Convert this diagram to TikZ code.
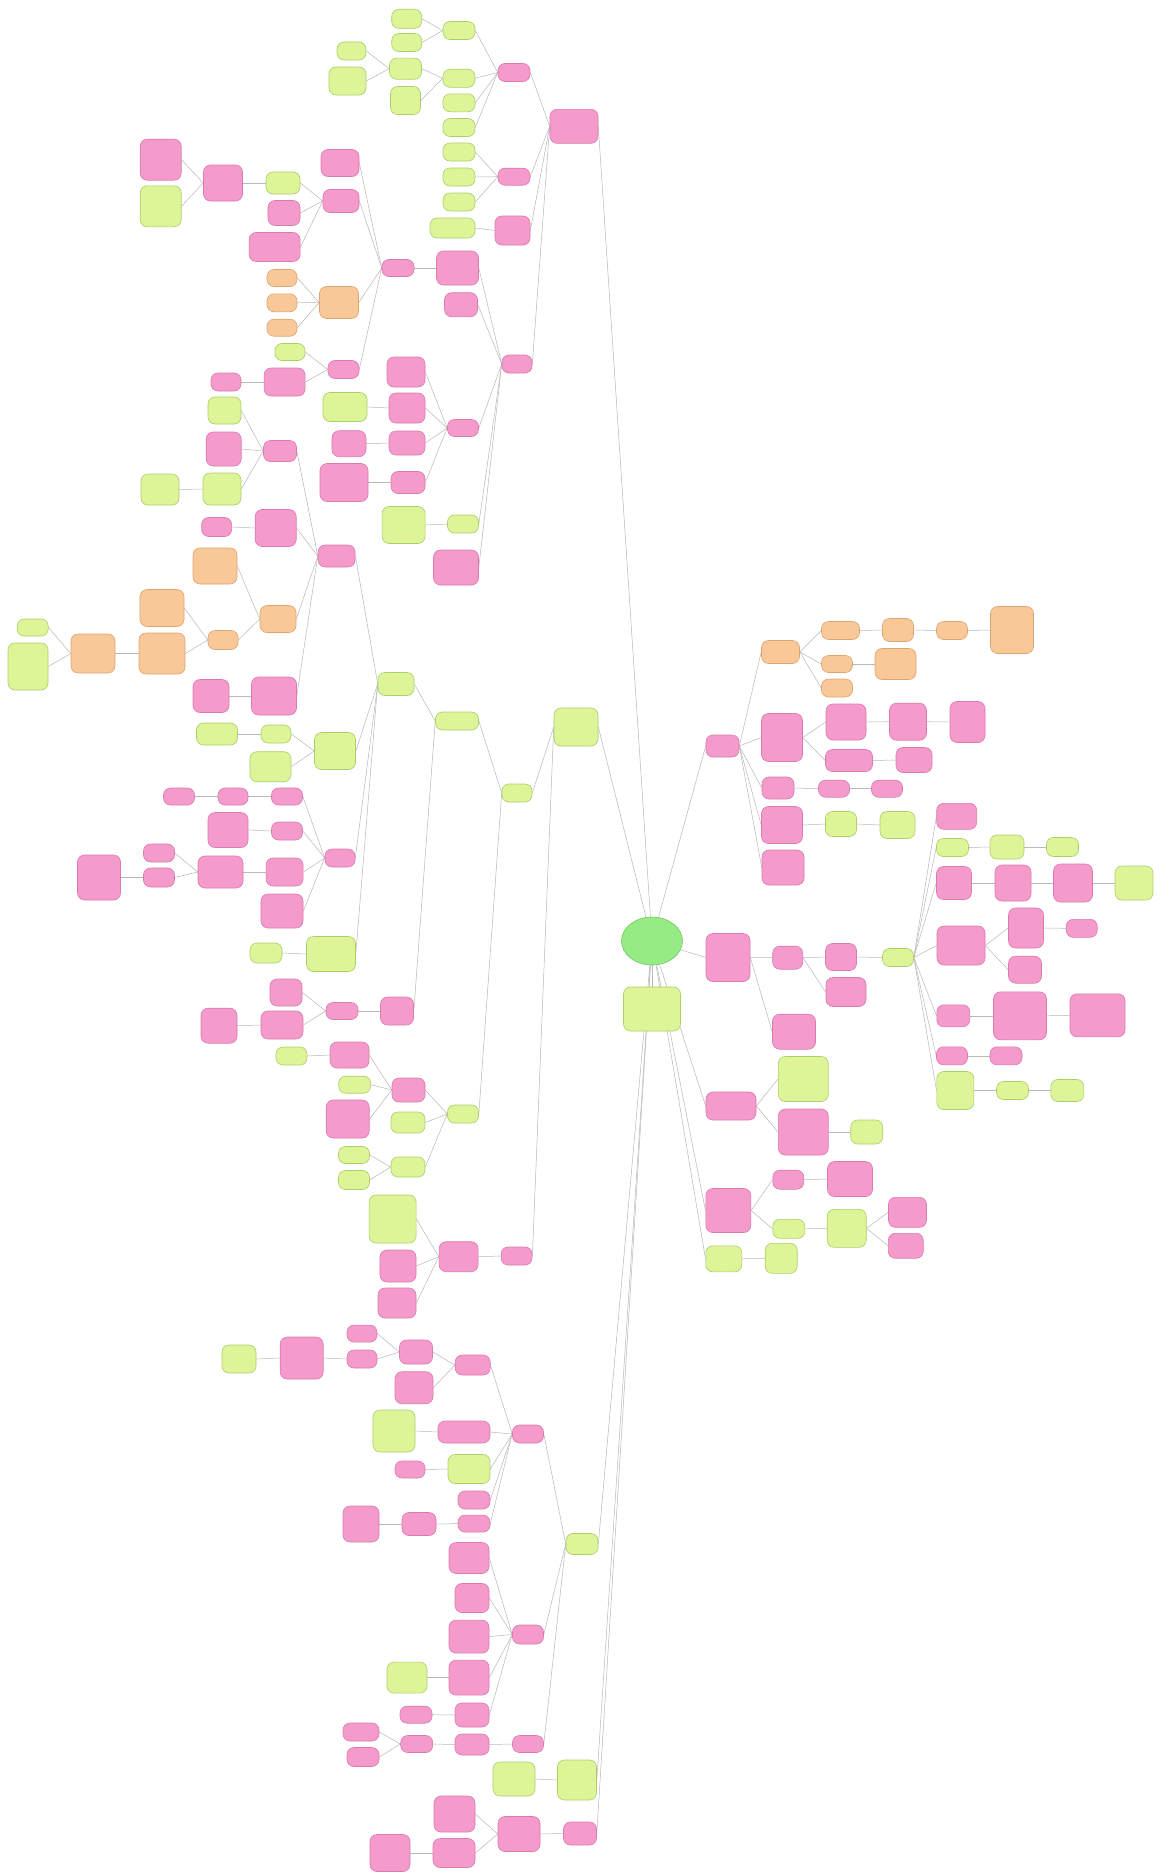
\documentclass[tikz,border=0pt]{standalone}
\usetikzlibrary{shapes.geometric,backgrounds}
\definecolor{pkF}{HTML}{F59BCB}
\definecolor{pkB}{HTML}{D97AB0}
\definecolor{grF}{HTML}{DDF598}
\definecolor{grB}{HTML}{AACF68}
\definecolor{ogF}{HTML}{F9C898}
\definecolor{ogB}{HTML}{DDA572}
\definecolor{rtF}{HTML}{96EC84}
\definecolor{rtB}{HTML}{74C865}
\definecolor{edC}{HTML}{B8B8B8}
\tikzset{
  box/.style={rounded corners=7pt, line width=0.6pt, inner sep=0pt},
  pk/.style={box, draw=pkB, fill=pkF},
  gr/.style={box, draw=grB, fill=grF},
  og/.style={box, draw=ogB, fill=ogF},
  edge/.style={draw=edC, line width=0.5pt}
}
\newcommand{\mmn}[6]{\node[#2, minimum width=#5pt, minimum height=#6pt] (#1) at (#3,#4) {};}
\newcommand{\mmL}[2]{\draw[edge] (#1.west) -- (#2.east);}
\newcommand{\mmR}[2]{\draw[edge] (#1.east) -- (#2.west);}
\newcommand{\mmRoot}[2]{\draw[edge] (#1) -- (#2);}
\begin{document}
\begin{tikzpicture}[x=1pt,y=-1pt]
\useasboundingbox (0,0) rectangle (1160,1876);
% ---------- root ----------
\node[ellipse, draw=rtB, fill=rtF, line width=0.6pt, minimum width=61pt, minimum height=48pt, inner sep=0pt] (root) at (652,941) {};
\mmn{G}{gr}{652}{1009}{57}{44}
% ---------- right side ----------
\mmn{P1}{pk}{722.5}{746}{33}{22}
\mmn{O1}{og}{780.5}{652}{38}{23}
\mmn{O2}{og}{840.5}{630.5}{38}{18}
\mmn{O3}{og}{898}{630}{31}{23}
\mmn{O4}{og}{952}{630.5}{31}{18}
\mmn{O5}{og}{1012}{630}{43}{47}
\mmn{O6}{og}{837}{664}{31}{17}
\mmn{O7}{og}{895.5}{664}{41}{31}
\mmn{O8}{og}{837}{688}{31}{18}
\mmn{P2}{pk}{782}{737.5}{41}{48}
\mmn{P2a}{pk}{846}{722}{40}{36}
\mmn{P2b}{pk}{908}{721.7}{37}{37}
\mmn{P2c}{pk}{967.5}{722}{35}{41}
\mmn{P2d}{pk}{849}{760.5}{47}{22}
\mmn{P2e}{pk}{914}{760}{36}{25}
\mmn{P3}{pk}{778}{788}{32}{22}
\mmn{P3a}{pk}{834}{788.7}{31}{17}
\mmn{P3b}{pk}{887}{788.7}{31}{17}
\mmn{P4}{pk}{782}{825}{41}{37}
\mmn{P4a}{gr}{841}{824}{31}{25}
\mmn{P4b}{gr}{897.5}{825}{35}{27}
\mmn{P5}{pk}{783}{867.5}{42}{35}
\mmn{Q}{pk}{728}{957.5}{44}{48}
\mmn{Q1}{pk}{787.7}{957.7}{30}{23}
\mmn{Q2}{pk}{841}{957}{31}{27}
\mmn{Q3}{gr}{898}{957.5}{31}{18}
\mmn{Q4}{pk}{846}{992}{40}{29}
\mmn{Q5}{pk}{794}{1031.7}{43}{35}
\mmn{R1}{pk}{956.7}{816.3}{40}{26}
\mmn{R2}{gr}{952.5}{847.5}{32}{18}
\mmn{R2a}{gr}{1007}{847}{34}{24}
\mmn{R2b}{gr}{1062.5}{847}{32}{19}
\mmn{R3}{pk}{954}{883}{35}{33}
\mmn{R3a}{pk}{1013}{883}{36}{36}
\mmn{R3b}{pk}{1073}{883}{39}{38}
\mmn{R3c}{gr}{1134}{883}{38}{34}
\mmn{R4}{pk}{961}{945.5}{48}{39}
\mmn{R4a}{pk}{1026}{928}{35}{40}
\mmn{R4aa}{pk}{1081.7}{928.3}{31}{18}
\mmn{R4b}{pk}{1025}{969.7}{33}{27}
\mmn{R5}{pk}{953.3}{1015.8}{33}{22}
\mmn{R5a}{pk}{1020}{1015.8}{53}{48}
\mmn{R5b}{pk}{1097.5}{1015.3}{55}{43}
\mmn{R6}{pk}{952}{1055.8}{31}{18}
\mmn{R6a}{pk}{1006}{1055.8}{32}{18}
\mmn{R7}{gr}{955.3}{1090.5}{37}{38}
\mmn{R7a}{gr}{1012.5}{1090.5}{32}{18}
\mmn{R7b}{gr}{1067.3}{1090.5}{33}{22}
\mmn{S}{pk}{731}{1106}{50}{28}
\mmn{S1}{gr}{803.3}{1079}{50}{45}
\mmn{S2}{pk}{803.3}{1132}{50}{46}
\mmn{S2a}{gr}{866.7}{1132}{32}{24}
\mmn{T}{pk}{728.3}{1210.5}{45}{44}
\mmn{T1}{pk}{788.3}{1179.7}{31}{19}
\mmn{T1a}{pk}{850}{1179}{45}{35}
\mmn{T2}{gr}{788.8}{1228.8}{32}{19}
\mmn{T2a}{gr}{846.7}{1228.3}{39}{38}
\mmn{T2aa}{pk}{907.5}{1212.3}{38}{30}
\mmn{T2ab}{pk}{905.8}{1245.8}{35}{25}
\mmn{U}{gr}{723.8}{1258.8}{36}{26}
\mmn{U1}{gr}{781.2}{1258.3}{32}{30}
% ---------- left side: top branch ----------
\mmn{A}{pk}{574}{126.3}{48}{34}
\mmn{A1}{pk}{514}{72.5}{32}{18}
\mmn{A1a}{gr}{459}{30.5}{32}{18}
\mmn{A1aa}{gr}{406.7}{18.8}{30}{19}
\mmn{A1ab}{gr}{406.7}{42.5}{30}{18}
\mmn{A1b}{gr}{459}{78.3}{32}{18}
\mmn{A1ba}{gr}{405.5}{68.7}{32}{21}
\mmn{A1bb}{gr}{405.5}{100.5}{30}{28}
\mmn{A1bax}{gr}{351.5}{51}{29}{18}
\mmn{A1bay}{gr}{347.5}{81}{37}{28}
\mmn{A1c}{gr}{459}{102.8}{32}{18}
\mmn{A1d}{gr}{459}{127.5}{32}{18}
\mmn{A2}{pk}{514}{176.7}{32}{17}
\mmn{A2a}{gr}{459}{152}{32}{18}
\mmn{A2b}{gr}{459}{177}{32}{18}
\mmn{A2c}{gr}{459}{202}{32}{18}
\mmn{A3}{pk}{512.5}{230.5}{35}{29}
\mmn{A3a}{gr}{452.5}{228}{45}{20}
\mmn{M2}{pk}{517}{364}{30}{18}
\mmn{B1}{pk}{457.5}{268}{42}{34}
\mmn{B1b}{pk}{461}{304.7}{33}{24}
\mmn{B}{pk}{398}{268}{32}{17}
\mmn{Ba}{pk}{340}{163}{38}{27}
\mmn{Bb}{pk}{341}{201}{36}{23}
\mmn{Bba}{gr}{283}{183}{34}{22}
\mmn{Bbaa}{pk}{223}{183}{39}{36}
\mmn{Bbaaa}{pk}{160.7}{159.7}{41}{41}
\mmn{Bbaab}{gr}{160.7}{206.3}{41}{41}
\mmn{Bbb}{pk}{284}{213}{32}{25}
\mmn{Bbc}{pk}{274.6}{247}{51}{29}
\mmn{Bc}{og}{339}{302.5}{39}{32}
\mmn{Bca}{og}{282}{278}{30}{17}
\mmn{Bcb}{og}{282}{302.8}{30}{18}
\mmn{Bcc}{og}{282}{327.7}{30}{17}
\mmn{Bd}{pk}{343.5}{369.5}{31}{18}
\mmn{Bda}{gr}{290}{352}{30}{17}
\mmn{Bdb}{pk}{284.6}{382}{41}{28}
\mmn{Bdba}{pk}{226}{382}{30}{18}
\mmn{C}{pk}{463}{428}{31}{17}
\mmn{C1}{pk}{406}{372}{38}{30}
\mmn{C2}{pk}{407}{408}{36}{30}
\mmn{C2a}{gr}{345}{407}{44}{29}
\mmn{C3}{pk}{407}{443}{36}{24}
\mmn{C3a}{pk}{349}{443.7}{34}{26}
\mmn{C4}{pk}{408}{482.5}{34}{22}
\mmn{C4a}{pk}{344}{482.5}{48}{38}
\mmn{D}{gr}{463}{524}{31}{18}
\mmn{Da}{gr}{403.6}{525}{43}{37}
\mmn{E}{pk}{456}{567.5}{45}{35}
% ---------- left side: middle branch ----------
\mmn{Gt}{gr}{576}{727}{44}{38}
\mmn{Gm}{gr}{517}{793}{30}{18}
\mmn{Gc0}{gr}{457}{721}{43}{18}
\mmn{Gc}{gr}{396}{684}{36}{23}
\mmn{Lc}{pk}{336.6}{556}{37}{22}
\mmn{F1}{pk}{280}{451}{33}{21}
\mmn{F1a}{gr}{224.5}{410.5}{33}{27}
\mmn{F1b}{pk}{223.7}{449}{35}{34}
\mmn{F1c}{gr}{222}{489}{38}{32}
\mmn{F1ca}{gr}{160}{489.5}{38}{31}
\mmn{Lc1}{pk}{275.7}{528}{41}{37}
\mmn{Lc1a}{pk}{216.6}{527}{30}{19}
\mmn{Lc2}{og}{278}{619}{36}{27}
\mmn{Lc2a}{og}{215}{566}{44}{36}
\mmn{Lc2b}{og}{223}{640}{30}{19}
\mmn{Lc2ba}{og}{162}{608}{44}{37}
\mmn{Lc2bb}{og}{162}{653.5}{46}{41}
\mmn{Lc2bc}{og}{93}{653.5}{44}{39}
\mmn{Lc2bd}{gr}{32.7}{627.5}{31}{17}
\mmn{Lc2be}{gr}{28}{666.5}{40}{47}
\mmn{Lc3}{pk}{274}{696}{45}{38}
\mmn{Lc3a}{pk}{211}{696}{36}{33}
\mmn{Gc1}{gr}{335}{751}{41}{37}
\mmn{Gc1a}{gr}{276}{734}{30}{18}
\mmn{Gc1aa}{gr}{217}{734}{41}{22}
\mmn{Gc1b}{gr}{270.5}{766.7}{41}{30}
\mmn{H}{pk}{340}{858}{30}{18}
\mmn{H1}{pk}{287}{796.5}{31}{17}
\mmn{H1a}{pk}{233}{796.5}{30}{17}
\mmn{H1b}{pk}{179}{796.5}{31}{17}
\mmn{H2}{pk}{287}{831}{31}{18}
\mmn{H2a}{pk}{228}{830}{40}{35}
\mmn{H3}{pk}{284.6}{872}{37}{28}
\mmn{H3a}{pk}{220.5}{872}{45}{32}
\mmn{H3aa}{pk}{159}{853}{31}{18}
\mmn{H3ab}{pk}{159}{877.5}{31}{19}
\mmn{H3aba}{pk}{99}{877.5}{43}{45}
\mmn{H4}{pk}{282}{911}{42}{34}
\mmn{I}{gr}{331}{954}{49}{35}
\mmn{Ia}{gr}{266}{953}{32}{20}
\mmn{J}{pk}{397}{1011}{33}{28}
\mmn{J1}{pk}{342}{1011}{32}{17}
\mmn{J1a}{pk}{286}{992.5}{32}{27}
\mmn{J1b}{pk}{282}{1025}{42}{28}
\mmn{J1ba}{pk}{219}{1025.7}{36}{35}
\mmn{V}{gr}{463}{1114}{31}{18}
\mmn{V1}{pk}{408.5}{1090}{33}{24}
\mmn{V1a}{pk}{349.5}{1055}{39}{26}
\mmn{V1aa}{gr}{291.5}{1056}{31}{18}
\mmn{V1b}{gr}{354.6}{1084.7}{32}{17}
\mmn{V1c}{pk}{347.7}{1119}{43}{38}
\mmn{V2}{gr}{408}{1122.5}{34}{21}
\mmn{V3}{gr}{408}{1167}{34}{20}
\mmn{V3a}{gr}{354}{1155}{31}{17}
\mmn{V3b}{gr}{354}{1180}{31}{19}
\mmn{W}{pk}{516.6}{1256}{31}{18}
\mmn{W1}{pk}{458.6}{1256.7}{39}{30}
\mmn{W1a}{gr}{392.6}{1219}{47}{48}
\mmn{W1b}{pk}{398}{1266}{36}{32}
\mmn{W1c}{pk}{397}{1303}{38}{30}
% ---------- left side: bottom branches ----------
\mmn{Sl}{gr}{582}{1544}{32}{21}
\mmn{Y}{pk}{528}{1434}{31}{18}
\mmn{X}{pk}{472.7}{1365}{35}{20}
\mmn{X1}{pk}{416}{1352}{33}{24}
\mmn{X1a}{pk}{362}{1333.6}{30}{17}
\mmn{X1b}{pk}{362}{1359}{30}{18}
\mmn{X1ba}{pk}{301.7}{1358}{43}{42}
\mmn{X1bb}{gr}{239}{1359}{34}{28}
\mmn{X2}{pk}{414}{1387.7}{38}{32}
\mmn{Y1}{pk}{464}{1432}{52}{22}
\mmn{Y1a}{gr}{394}{1431}{42}{42}
\mmn{Y2}{gr}{469}{1469}{42}{29}
\mmn{Y2a}{pk}{410}{1469.5}{30}{17}
\mmn{Y3}{pk}{474}{1500}{32}{18}
\mmn{Y4}{pk}{474}{1523.6}{32}{17}
\mmn{Y4a}{pk}{419}{1524}{34}{23}
\mmn{Y4aa}{pk}{361}{1524}{36}{36}
\mmn{Z}{pk}{528}{1634.5}{31}{19}
\mmn{Z1}{pk}{469}{1558}{40}{31}
\mmn{Z2}{pk}{472}{1598}{34}{29}
\mmn{Z3}{pk}{469}{1636.6}{40}{33}
\mmn{Z4}{pk}{469}{1677.6}{40}{35}
\mmn{Z4a}{gr}{407}{1677.6}{40}{31}
\mmn{Z5}{pk}{472}{1715}{34}{24}
\mmn{Z5a}{pk}{416}{1714.7}{32}{17}
\mmn{AA}{pk}{528}{1744}{31}{17}
\mmn{AA1}{pk}{472}{1744.5}{34}{21}
\mmn{AA1a}{pk}{416.7}{1744}{32}{17}
\mmn{AA1aa}{pk}{361}{1732}{36}{18}
\mmn{AA1ab}{pk}{363}{1757}{32}{19}
\mmn{BB}{gr}{577}{1780}{39}{40}
\mmn{BB1}{gr}{514}{1779}{42}{34}
\mmn{CC}{pk}{580}{1833.5}{33}{23}
\mmn{CC1}{pk}{519}{1834}{42}{35}
\mmn{CC1a}{pk}{454.5}{1814}{41}{36}
\mmn{CC1b}{pk}{454}{1853}{42}{29}
\mmn{CC1ba}{pk}{390}{1853}{40}{37}
% ---------- connectors ----------
\begin{pgfonlayer}{background}
\fill[white] (0,0) rectangle (1160,1876);
% root
\mmRoot{root}{P1.west}
\mmRoot{root}{Q.west}
\mmRoot{root}{S.west}
\mmRoot{root}{T.west}
\mmRoot{root}{U.west}
\mmRoot{root}{A.east}
\mmRoot{root}{Gt.east}
\mmRoot{root}{Sl.east}
\mmRoot{root}{BB.east}
\mmRoot{root}{CC.east}
\mmRoot{root}{G}
% right
\mmR{P1}{O1}\mmR{O1}{O2}\mmR{O2}{O3}\mmR{O3}{O4}\mmR{O4}{O5}
\mmR{O1}{O6}\mmR{O6}{O7}\mmR{O1}{O8}
\mmR{P1}{P2}\mmR{P2}{P2a}\mmR{P2a}{P2b}\mmR{P2b}{P2c}\mmR{P2}{P2d}\mmR{P2d}{P2e}
\mmR{P1}{P3}\mmR{P3}{P3a}\mmR{P3a}{P3b}
\mmR{P1}{P4}\mmR{P4}{P4a}\mmR{P4a}{P4b}
\mmR{P1}{P5}
\mmR{Q}{Q1}\mmR{Q1}{Q2}\mmR{Q2}{Q3}\mmR{Q1}{Q4}\mmR{Q}{Q5}
\mmR{Q3}{R1}\mmR{Q3}{R2}\mmR{Q3}{R3}\mmR{Q3}{R4}\mmR{Q3}{R5}\mmR{Q3}{R6}\mmR{Q3}{R7}
\mmR{R2}{R2a}\mmR{R2a}{R2b}
\mmR{R3}{R3a}\mmR{R3a}{R3b}\mmR{R3b}{R3c}
\mmR{R4}{R4a}\mmR{R4a}{R4aa}\mmR{R4}{R4b}
\mmR{R5}{R5a}\mmR{R5a}{R5b}
\mmR{R6}{R6a}
\mmR{R7}{R7a}\mmR{R7a}{R7b}
\mmR{S}{S1}\mmR{S}{S2}\mmR{S2}{S2a}
\mmR{T}{T1}\mmR{T1}{T1a}\mmR{T}{T2}\mmR{T2}{T2a}\mmR{T2a}{T2aa}\mmR{T2a}{T2ab}
\mmR{U}{U1}
% left top
\mmL{A}{A1}\mmL{A}{A2}\mmL{A}{A3}\mmL{A}{M2}
\mmL{A1}{A1a}\mmL{A1}{A1b}\mmL{A1}{A1c}\mmL{A1}{A1d}
\mmL{A1a}{A1aa}\mmL{A1a}{A1ab}\mmL{A1b}{A1ba}\mmL{A1b}{A1bb}
\mmL{A1ba}{A1bax}\mmL{A1ba}{A1bay}
\mmL{A2}{A2a}\mmL{A2}{A2b}\mmL{A2}{A2c}\mmL{A3}{A3a}
\mmL{M2}{B1}\mmL{M2}{B1b}\mmL{M2}{C}\mmL{M2}{D}\mmL{M2}{E}
\mmL{B1}{B}\mmL{B}{Ba}\mmL{B}{Bb}\mmL{B}{Bc}\mmL{B}{Bd}
\mmL{Bb}{Bba}\mmL{Bb}{Bbb}\mmL{Bb}{Bbc}\mmL{Bba}{Bbaa}\mmL{Bbaa}{Bbaaa}\mmL{Bbaa}{Bbaab}
\mmL{Bc}{Bca}\mmL{Bc}{Bcb}\mmL{Bc}{Bcc}
\mmL{Bd}{Bda}\mmL{Bd}{Bdb}\mmL{Bdb}{Bdba}
\mmL{C}{C1}\mmL{C}{C2}\mmL{C}{C3}\mmL{C}{C4}\mmL{C2}{C2a}\mmL{C3}{C3a}\mmL{C4}{C4a}
\mmL{D}{Da}
% left middle
\mmL{Gt}{Gm}\mmL{Gt}{W}\mmL{Gm}{Gc0}\mmL{Gm}{V}\mmL{Gc0}{Gc}\mmL{Gc0}{J}
\mmL{Gc}{Lc}\mmL{Gc}{Gc1}\mmL{Gc}{H}\mmL{Gc}{I}
\mmL{Lc}{F1}\mmL{Lc}{Lc1}\mmL{Lc}{Lc2}\mmL{Lc}{Lc3}
\mmL{F1}{F1a}\mmL{F1}{F1b}\mmL{F1}{F1c}\mmL{F1c}{F1ca}
\mmL{Lc1}{Lc1a}\mmL{Lc2}{Lc2a}\mmL{Lc2}{Lc2b}\mmL{Lc2b}{Lc2ba}\mmL{Lc2b}{Lc2bb}
\mmL{Lc2bb}{Lc2bc}\mmL{Lc2bc}{Lc2bd}\mmL{Lc2bc}{Lc2be}
\mmL{Lc3}{Lc3a}
\mmL{Gc1}{Gc1a}\mmL{Gc1}{Gc1b}\mmL{Gc1a}{Gc1aa}
\mmL{H}{H1}\mmL{H}{H2}\mmL{H}{H3}\mmL{H}{H4}\mmL{H1}{H1a}\mmL{H1a}{H1b}\mmL{H2}{H2a}
\mmL{H3}{H3a}\mmL{H3a}{H3aa}\mmL{H3a}{H3ab}\mmL{H3ab}{H3aba}
\mmL{I}{Ia}
\mmL{J}{J1}\mmL{J1}{J1a}\mmL{J1}{J1b}\mmL{J1b}{J1ba}
\mmL{V}{V1}\mmL{V}{V2}\mmL{V}{V3}\mmL{V1}{V1a}\mmL{V1}{V1b}\mmL{V1}{V1c}\mmL{V1a}{V1aa}
\mmL{V3}{V3a}\mmL{V3}{V3b}
\mmL{W}{W1}\mmL{W1}{W1a}\mmL{W1}{W1b}\mmL{W1}{W1c}
% left bottom
\mmL{Sl}{Y}\mmL{Sl}{Z}\mmL{Sl}{AA}
\mmL{Y}{X}\mmL{Y}{Y1}\mmL{Y}{Y2}\mmL{Y}{Y3}\mmL{Y}{Y4}
\mmL{X}{X1}\mmL{X}{X2}\mmL{X1}{X1a}\mmL{X1}{X1b}\mmL{X1b}{X1ba}\mmL{X1ba}{X1bb}
\mmL{Y1}{Y1a}\mmL{Y2}{Y2a}\mmL{Y4}{Y4a}\mmL{Y4a}{Y4aa}
\mmL{Z}{Z1}\mmL{Z}{Z2}\mmL{Z}{Z3}\mmL{Z}{Z4}\mmL{Z}{Z5}\mmL{Z4}{Z4a}\mmL{Z5}{Z5a}
\mmL{AA}{AA1}\mmL{AA1}{AA1a}\mmL{AA1a}{AA1aa}\mmL{AA1a}{AA1ab}
\mmL{BB}{BB1}
\mmL{CC}{CC1}\mmL{CC1}{CC1a}\mmL{CC1}{CC1b}\mmL{CC1b}{CC1ba}
\end{pgfonlayer}
\end{tikzpicture}
\end{document}
